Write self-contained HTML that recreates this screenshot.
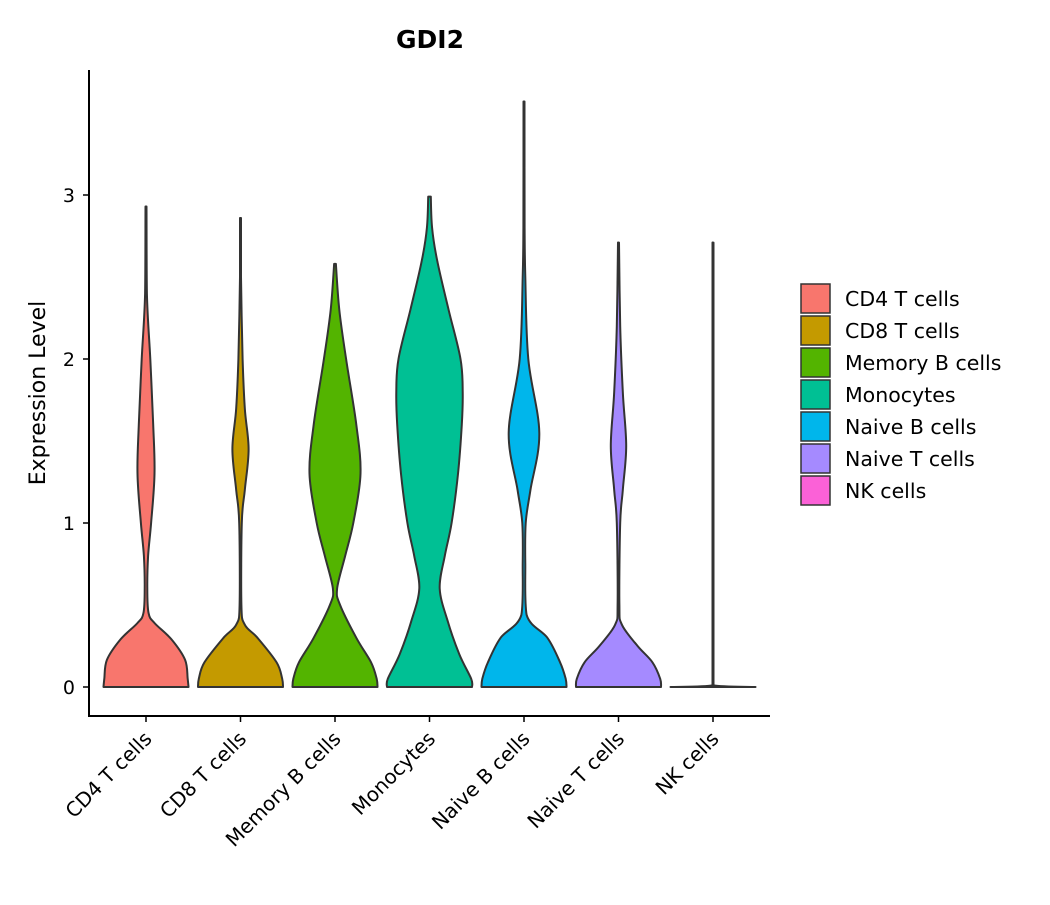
<!DOCTYPE html>
<html><head><meta charset="utf-8"><style>
body{margin:0;background:#fff}
svg text{font-family:"DejaVu Sans","Liberation Sans",sans-serif;fill:#000}
</style></head><body>
<svg id="chart" width="1050" height="900" xmlns="http://www.w3.org/2000/svg">
<text x="430" y="48" text-anchor="middle" font-size="25" font-weight="bold">GDI2</text>
<text transform="translate(45,393) rotate(-90)" text-anchor="middle" font-size="22">Expression Level</text>
<g id="plot"></g>
<g id="legend"></g>
</svg>
<script>
const categories = ["CD4 T cells","CD8 T cells","Memory B cells","Monocytes","Naive B cells","Naive T cells","NK cells"];
const colors = ["#F8766D","#C49A00","#53B400","#00C094","#00B6EB","#A58AFF","#FB61D7"];
const yTicks = [0,1,2,3];
const ysCD4 = [0,0.05,0.165,0.29,0.39,0.45,0.6,0.8,1.0,1.3,1.6,2.0,2.4,2.93];
const wsCD4 = [1,0.98,0.92,0.6,0.2,0.06,0.03,0.05,0.12,0.2,0.17,0.1,0.02,0.01];
const ysCD8 = [0,0.05,0.15,0.3,0.38,0.5,1.0,1.2,1.45,1.7,2.0,2.5,2.86];
const wsCD8 = [1,0.98,0.85,0.4,0.1,0.02,0.03,0.1,0.19,0.1,0.05,0.01,0.01];
const ysMemB = [0,0.05,0.15,0.3,0.5,0.6,0.8,1.0,1.3,1.6,2.0,2.3,2.58];
const wsMemB = [1,0.98,0.85,0.5,0.12,0.05,0.24,0.43,0.6,0.5,0.26,0.1,0.02];
const ysMono = [0,0.05,0.2,0.4,0.6,0.8,1.0,1.3,1.6,1.8,2.0,2.3,2.6,2.8,2.99];
const wsMono = [1,0.98,0.7,0.43,0.24,0.36,0.52,0.67,0.76,0.78,0.73,0.45,0.18,0.06,0.03];
const ysNaiveB = [0,0.05,0.15,0.3,0.44,0.75,1.0,1.2,1.55,2.0,2.5,2.8,3.57];
const wsNaiveB = [1,0.98,0.85,0.55,0.06,0.03,0.04,0.15,0.36,0.1,0.03,0.015,0.01];
const ysNaiveT = [0,0.05,0.15,0.25,0.38,0.5,1.0,1.2,1.47,1.8,2.2,2.71];
const wsNaiveT = [1,0.98,0.8,0.45,0.08,0.02,0.04,0.1,0.18,0.1,0.04,0.01];
const ysNK = [0,0.01,1.0,2.0,2.71];
const wsNK = [1,0.01,0.01,0.01,0.01];
const profiles = [[ysCD4,wsCD4],[ysCD8,wsCD8],[ysMemB,wsMemB],[ysMono,wsMono],[ysNaiveB,wsNaiveB],[ysNaiveT,wsNaiveT],[ysNK,wsNK]];

const NS="http://www.w3.org/2000/svg";
const x0=89, x1=770, yBase=716, yTop=70;
const band=94.5;
const xScale=i=>146+band*i;
const yScale=v=>687-v*164;
const maxHalf=band*0.45;
const plot=document.getElementById('plot');
function mk(tag,attrs){const e=document.createElementNS(NS,tag);for(const k in attrs)e.setAttribute(k,attrs[k]);return e;}
function curve(pts,cx,sgn){let d="";const cl=x=>sgn>0?Math.max(x,cx+0.5):Math.min(x,cx-0.5);const cy=y=>Math.min(y,yScale(0));
for(let i=0;i<pts.length-1;i++){const p0=pts[Math.max(0,i-1)],p1=pts[i],p2=pts[i+1],p3=pts[Math.min(pts.length-1,i+2)];
const c1=[cl(p1[0]+(p2[0]-p0[0])/6),cy(p1[1]+(p2[1]-p0[1])/6)],c2=[cl(p2[0]-(p3[0]-p1[0])/6),cy(p2[1]-(p3[1]-p1[1])/6)];
d+=` C${c1[0].toFixed(1)},${c1[1].toFixed(1)} ${c2[0].toFixed(1)},${c2[1].toFixed(1)} ${p2[0].toFixed(1)},${p2[1].toFixed(1)}`;}return d;}
profiles.forEach((pr,i)=>{
  const cx=xScale(i),[ys,ws]=pr;
  const right=ys.map((v,j)=>[cx+Math.max(ws[j]*maxHalf,0.5),yScale(v)]);
  const left=ys.map((v,j)=>[cx-Math.max(ws[j]*maxHalf,0.5),yScale(v)]).reverse();
  let d=`M${cx},${yScale(0)} L${right[0][0]},${right[0][1]}`+curve(right,cx,1)+` L${left[0][0]},${left[0][1]}`+curve(left,cx,-1)+" Z";
  const p=mk('path',{d:d,fill:colors[i],stroke:'#333','stroke-width':2,'stroke-linejoin':'round'});
  
  
  plot.appendChild(p);
  const t=mk('line',{x1:cx,x2:cx,y1:yBase,y2:yBase+6,stroke:'#000','stroke-width':1.5});
  
  
  plot.appendChild(t);
  const lb=mk('text',{transform:`translate(${cx+7},${yBase+24}) rotate(-45)`,'text-anchor':'end','font-size':20});
  lb.textContent=categories[i];
  
  
  plot.appendChild(lb);
});
yTicks.forEach(v=>{
  const y=yScale(v);
  const t=mk('line',{x1:x0-6,x2:x0,y1:y,y2:y,stroke:'#000','stroke-width':1.5});
  
  
  plot.appendChild(t);
  const lb=mk('text',{x:x0-14,y:y+7,'text-anchor':'end','font-size':19});
  lb.textContent=v;
  
  
  plot.appendChild(lb);
});
const ax=mk('path',{d:`M${x0},${yTop} L${x0},${yBase} L${x1},${yBase}`,fill:'none',stroke:'#000','stroke-width':2});


plot.appendChild(ax);
const lg=document.getElementById('legend');
categories.forEach((c,i)=>{
  const y=284+i*32;
  const r=mk('rect',{x:801,y:y,width:29,height:29,fill:colors[i],stroke:'#333','stroke-width':1.5});
  
  
  lg.appendChild(r);
  const t=mk('text',{x:845,y:y+22,'font-size':20.5});
  t.textContent=c;
  
  
  lg.appendChild(t);
});
</script>
</body></html>
